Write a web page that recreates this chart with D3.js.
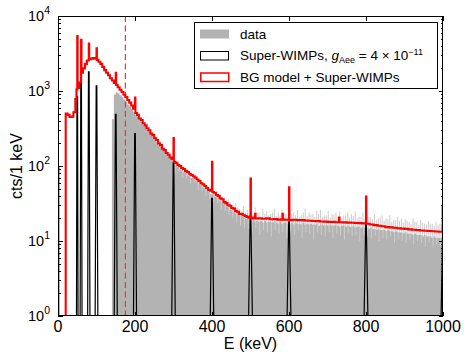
<!DOCTYPE html>
<html><head><meta charset="utf-8">
<script src="https://cdn.jsdelivr.net/npm/d3@7"></script>
<style>
body{margin:0;background:#fff}
svg{display:block}
text{font-family:"Liberation Sans",Arial,Helvetica,sans-serif;fill:#000}
</style>
</head><body>
<svg id="c" width="466" height="355"></svg>
<script>
// ---------- data ----------
const xTicks = [0, 200, 400, 600, 800, 1000];
const yDecades = [0, 1, 2, 3, 4];
const thresholdE = 175;

// BG model + Super-WIMPs (step histogram, value from E to next E)
const modelE = [0,1,20,25,30,35,40,45,48,50,51,55,60,61,65,70,75,80,81,85,90,95,100,101,105,110,115,120,125,130,135,140,145,150,151,155,160,165,170,175,180,185,190,195,200,201,205,210,215,220,225,230,235,240,245,250,255,260,265,270,275,280,285,290,295,300,301,305,310,315,320,325,330,335,340,345,350,355,360,365,370,375,380,385,390,395,400,401,405,410,415,420,425,430,435,440,445,450,455,460,465,470,475,480,485,490,495,500,501,505,510,512,513,520,530,540,550,560,570,580,583,584,590,600,601,610,620,630,640,650,660,670,680,690,700,710,720,730,731,740,750,760,770,780,790,800,801,810,820,830,840,850,860,870,880,890,900,910,920,930,940,950,960,970,980,990,999,1000];
const modelV = [95,0.3,500,480,450,455,520,780,1050,5400,1100,1300,4800,1750,2000,2300,2550,4300,2650,2700,2750,2700,3700,2600,2450,2300,2100,1900,1750,1620,1480,1380,1280,1750,1200,1120,1040,970,890,830,760,700,640,580,820,510,480,430,410,372,348,318,300,270,258,234,222,200,190,170,163,149,141,130,124,235,114,110,103,100,94,91,86,83,79,76,73,70,66,63,59,57,54,51,48,47,114,45,44,41,40,37,36,33,32,30,29.5,27.5,27,25,24.5,23,23,22,21.5,21,20.5,68,20.5,20,20.5,23,20,20,19.8,20,19.5,19.6,19.3,19.5,23,19.3,19.2,52,19,19.2,19,19,18.8,18.6,18.5,18.4,18.2,18.1,18,18,17.8,20.5,17.8,17.7,17.6,17.5,17.4,17.3,17.2,39,17,16.6,16.3,16,15.7,15.3,15.2,15,14.8,14.6,14.5,14.3,14.1,14,13.8,13.7,13.6,13.5,13.4,13.3,29,29];

// data histogram, 5 keV bins starting at 140 keV
const dataStart = 140, dataBin = 5;
const dataV = [420,900,960,930,880,830,770,720,660,620,570,520,
  470,455,405,390,350,335,300,290,258,248,222,208,190,180,163,155,140,135,123,119,
  106,99,97,90,88,83,81,75,73,69,68,63,62,57,56,52,50,47,45,42,
  42,39,38,35,34,32,31,28.5,28,26,25.5,24,23,22.5,21.5,21,20.5,19.5,20,19,
  18.5,19,18,18.5,18,18.5,17.5,18.5,17.5,18,18,17.5,18,17.5,17,18,17,17.5,17.5,17,
  17,17.5,16.5,17.5,17,17,16.5,17.5,16.5,17,16.5,17,16.5,16.5,17,16,16.5,16.5,16,16.5,
  16,16.5,16,16,16.5,16,15.5,16,16,15.5,16,15.5,15.5,16,15,15.5,15.5,15,15.5,15,
  15,14.5,15,14.5,14.5,14,14.5,14,14,14,13.5,14,13.5,13.5,13,13.5,13,13,13,12.5,
  13,12.5,12.5,12.5,12,12.5,12,12,12,11.5,12,11.5,11.5,11.5,11,11.5,11,11,11,11];

// upward fluctuations of the data (thin light spikes)
const spikeStart = 252, spikeStep = 10;
const spikeV = [240,215,175,160,140,120,112,96,90,82,72,68,60,57,50,47,46,40,38,36,
  31,32,27,29,26,25,28,24,27,25,23,27,24,26,23,27,24,26,22,27,
  24,23,25,26,22,25,23,24,25,22,24,23,25,21,24,22,21,23,20,22,
  20,22,19,21,20,19.5,18,20,18,19,17,18.5,17,18,17];
const spike2Start = 407;
const spike2V = [43,40,38,35,33,30,28,25,24,23,22.5,24,21.5,23,22,24,21.5,22,24,21,
  23,22,21,24,21.5,22.5,21,23,21,22,20.5,22.5,21,20,22,20.5,21.5,20,21,19.5,
  21,19.5,19,20.5,18.5,19.5,18,19,18.5,17.5,18.5,17,18,16.5,17.5,16.5,17,16,16.5,16];
// downward fluctuations (light notches)
const dipStart = 304;
const dipV = [80,85,70,68,58,60,48,46,40,36,33,32,26,25,22,20,18,16,15,14.5,
  13,15,12,14,13,11.5,14,12.5,13,11,13.5,12,14,11,13,12.5,10.5,13,12,11.5,
  13,11,12.5,12,10.5,12.5,11.5,12,10,12,11.5,11,12,10,11,10.5,11.5,9.5,10.5,10,
  9.5,10.5,9,10,9.5,8.5,9.5,8.5,9,8.5];

// Super-WIMP lines
const wimpE = [50, 60, 80, 100, 150, 200, 300, 400, 500, 600, 800, 1000];
const wimpV = [850, 1500, 1800, 1170, 490, 270, 110, 37, 22, 18, 17, 15];
const wimpHalfW = [2, 2.5, 3, 3.5, 4, 4, 4.5, 4.5, 5, 5, 5, 5];

// ---------- drawing ----------
const M = {l:58, r:443, t:16, b:316};
const x = d3.scaleLinear().domain([0,1000]).range([M.l, M.r]);
const y = d3.scaleLog().domain([1,1e4]).range([M.b, M.t]);
const svg = d3.select('#c');

svg.append('defs').append('clipPath').attr('id','clip')
  .append('rect').attr('x',M.l).attr('y',M.t).attr('width',M.r-M.l).attr('height',M.b-M.t);
const g = svg.append('g').attr('clip-path','url(#clip)');

const spikeCol = '#d0d0d0';
function spikes(arr, start, step){
  g.append('g').selectAll('rect').data(arr).join('rect')
    .attr('x',(v,i)=>x(start+i*step)-0.55)
    .attr('width',1.1)
    .attr('y',v=>y(v))
    .attr('height',v=>M.b+2-y(v))
    .attr('fill',spikeCol);
}
spikes(spikeV, spikeStart, spikeStep);
spikes(spike2V, spike2Start, spikeStep);

// data gray histogram
const dataPts = dataV.map((v,i)=>({e:dataStart+i*dataBin, v}));
dataPts.push({e:1000, v:dataV[dataV.length-1]});
g.append('path').datum(dataPts)
  .attr('d', d3.area().curve(d3.curveStepAfter).x(d=>x(d.e)).y0(M.b+3).y1(d=>y(d.v)))
  .attr('fill','#b3b3b3');

// light notches into the data
g.append('g').selectAll('rect').data(dipV).join('rect')
  .attr('x',(v,i)=>x(dipStart+i*10)-0.5)
  .attr('width',1)
  .attr('y',(v,i)=>{const e=dipStart+i*10; const k=Math.floor((e-dataStart)/dataBin); return y(dataV[k]);})
  .attr('height',(v,i)=>{const e=dipStart+i*10; const k=Math.floor((e-dataStart)/dataBin); return Math.max(0,y(v)-y(dataV[k]));})
  .attr('fill','#cdcdcd');

// Super-WIMP outlines
g.selectAll('path.w').data(wimpE).join('path').attr('class','w')
  .attr('d',(e,i)=>{
    const hw = wimpHalfW[i], top = y(wimpV[i]);
    return `M${x(e-hw)},${M.b+2}L${x(e-0.8)},${top}L${x(e+0.8)},${top}L${x(e+hw)},${M.b+2}`;
  })
  .attr('fill','none').attr('stroke','#000').attr('stroke-width',1.2);

// threshold dashed line
g.append('line').attr('x1',x(thresholdE)).attr('x2',x(thresholdE))
  .attr('y1',M.t).attr('y2',M.b)
  .attr('stroke','#f03535').attr('stroke-width',1.2).attr('stroke-dasharray','6,3.5');

// model red step line
const modelPts = modelE.map((e,i)=>({e, v:modelV[i]}));
g.append('path').datum(modelPts)
  .attr('d', d3.line().curve(d3.curveStepAfter).x(d=>x(d.e)).y(d=>y(d.v)))
  .attr('fill','none').attr('stroke','#ff0000').attr('stroke-width',2.1)
  .attr('stroke-linejoin','miter');

// frame
const ax = svg.append('g').attr('shape-rendering','crispEdges');
ax.append('rect').attr('x',M.l+0.5).attr('y',M.t+0.5)
  .attr('width',M.r-M.l-1).attr('height',M.b-M.t-1)
  .attr('fill','none').attr('stroke','#000').attr('stroke-width',1);

// y ticks (major + minor, both sides)
y.ticks().forEach(v=>{
  const major = Math.abs(Math.log10(v)-Math.round(Math.log10(v)))<1e-9;
  const L = major?4.5:2.5;
  const yy = Math.round(y(v))+0.5;
  ax.append('line').attr('x1',M.l).attr('x2',M.l+L).attr('y1',yy).attr('y2',yy).attr('stroke','#000');
  ax.append('line').attr('x1',M.r).attr('x2',M.r-L).attr('y1',yy).attr('y2',yy).attr('stroke','#000');
});
// x ticks (top and bottom)
xTicks.forEach(v=>{
  const xx = Math.round(x(v))+0.5;
  ax.append('line').attr('x1',xx).attr('x2',xx).attr('y1',M.t).attr('y2',M.t+4.5).attr('stroke','#000');
  ax.append('line').attr('x1',xx).attr('x2',xx).attr('y1',M.b).attr('y2',M.b-4.5).attr('stroke','#000');
});

// y tick labels
yDecades.forEach(d=>{
  const t = svg.append('text').attr('x',50).attr('y',y(Math.pow(10,d))+5)
    .attr('text-anchor','end').attr('font-size',14.5);
  t.append('tspan').text('10');
  t.append('tspan').attr('font-size',10.5).attr('dy',-7).text(String(d));
});
// x tick labels
xTicks.forEach(v=>{
  svg.append('text').attr('x',x(v)).attr('y',332).attr('text-anchor','middle')
    .attr('font-size',16).text(String(v));
});
// axis titles
svg.append('text').attr('x',(M.l+M.r)/2).attr('y',349).attr('text-anchor','middle')
  .attr('font-size',16).text('E (keV)');
svg.append('text').attr('transform',`translate(22,${(M.t+M.b)/2}) rotate(-90)`)
  .attr('text-anchor','middle').attr('font-size',16).text('cts/1 keV');

// legend
const lg = svg.append('g');
lg.append('rect').attr('x',194.5).attr('y',22.5).attr('width',243).attr('height',66)
  .attr('fill','#fff').attr('stroke','#000').attr('stroke-width',1).attr('shape-rendering','crispEdges');
const rows = [34, 55.5, 77];
lg.append('rect').attr('x',200).attr('y',rows[0]-4.5).attr('width',29).attr('height',9).attr('fill','#b3b3b3');
lg.append('rect').attr('x',200.5).attr('y',rows[1]-4).attr('width',28).attr('height',8.5)
  .attr('fill','#fff').attr('stroke','#000').attr('stroke-width',1);
lg.append('rect').attr('x',200.75).attr('y',rows[2]-4).attr('width',28).attr('height',8.5)
  .attr('fill','#fff').attr('stroke','#ff0000').attr('stroke-width',1.5);
const fs = 13.5;
lg.append('text').attr('x',240).attr('y',rows[0]+4.5).attr('font-size',fs).text('data');
const t2 = lg.append('text').attr('x',240).attr('y',rows[1]+4.5).attr('font-size',fs);
t2.append('tspan').text('Super-WIMPs, ');
t2.append('tspan').attr('font-style','italic').text('g');
t2.append('tspan').attr('font-size',9).attr('dy',2.5).text('Aee');
t2.append('tspan').attr('dy',-2.5).text(' = 4 \u00d7 10');
t2.append('tspan').attr('font-size',9).attr('dy',-5.5).text('\u221211');
lg.append('text').attr('x',240).attr('y',rows[2]+4.5).attr('font-size',fs).text('BG model + Super-WIMPs');
</script>
</body></html>
